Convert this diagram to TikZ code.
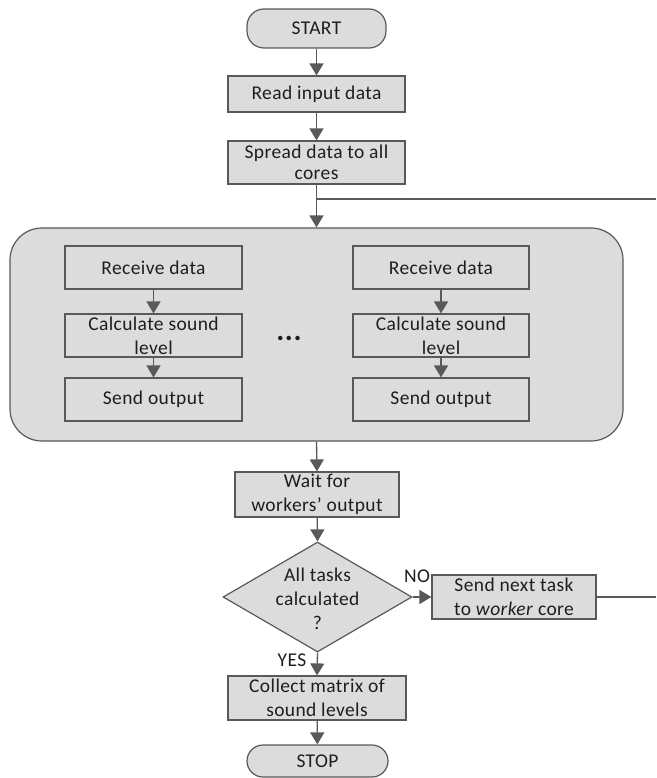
\documentclass[tikz,border=0pt]{standalone}
\usepackage{fontspec}
\setmainfont{Carlito}[LetterSpace=2]
\usetikzlibrary{arrows.meta,shapes.geometric}
\definecolor{lc}{HTML}{595959}
\definecolor{fc}{HTML}{DCDCDC}
\definecolor{tc}{HTML}{1E1E1E}
\newcommand\myfs{\fontsize{19.5}{24}\selectfont}
\begin{document}
\begin{tikzpicture}[x=1pt,y=-1pt,
  box/.style={draw=lc, fill=fc, line width=1.2pt, inner sep=0pt, align=center, font=\myfs, text=tc},
  term/.style={box, rounded corners=17pt},
  lab/.style={font=\myfs, text=tc, inner sep=0pt},
  line/.style={draw=lc, line width=1.3pt},
  arr/.style={line, -{Triangle[length=12pt,width=14pt]}}]
\path[use as bounding box] (0,0) rectangle (656,778);

\node[term, minimum width=139pt, minimum height=39pt] (start) at (316.5,28.5) {START};
\node[box, minimum width=177pt, minimum height=36pt] (read) at (316.5,94) {Read input data};
\node[box, minimum width=177pt, minimum height=43pt, font=\fontsize{19.5}{21}\selectfont] (spread) at (316.5,162.5) {Spread data to all\\cores};

\node[box, rounded corners=32pt, minimum width=613pt, minimum height=213pt] (par) at (316.5,334.5) {};

\node[box, minimum width=177pt, minimum height=43pt] (rl) at (153.5,267.5) {Receive data};
\node[box, minimum width=177pt, minimum height=43pt] (cl) at (153.5,335.5) {Calculate sound\\level};
\node[box, minimum width=177pt, minimum height=43pt] (sl) at (153.5,399.5) {Send output};

\node[box, minimum width=176pt, minimum height=43pt] (rr) at (441,267.5) {Receive data};
\node[box, minimum width=176pt, minimum height=43pt] (cr) at (441,335.5) {Calculate sound\\level};
\node[box, minimum width=176pt, minimum height=43pt] (sr) at (441,399.5) {Send output};

\node[lab, font=\fontsize{30}{30}\selectfont\bfseries] (dots) at (289,338) {...};

\node[box, minimum width=164pt, minimum height=45pt] (wait) at (317,494.5) {Wait for\\workers’ output};

\node[box, diamond, minimum width=189pt, minimum height=110pt] (dec) at (317.5,597) {};
\node[lab, align=center] (dectext) at (317.5,598.5) {All tasks\\calculated\\?};

\node[box, minimum width=164pt, minimum height=44pt] (next) at (514,597) {Send next task\\to \textit{worker} core};

\node[lab] (no) at (417,576) {NO};
\node[lab] (yes) at (292,660) {YES};

\node[box, minimum width=178pt, minimum height=44pt] (collect) at (317,698) {Collect matrix of\\sound levels};
\node[term, minimum width=141pt, minimum height=32pt, rounded corners=16pt] (stop) at (317.5,761) {STOP};

\coordinate (j) at (316.5,199);
\coordinate (outA) at (656,199);
\coordinate (outB) at (656,597);

\draw[arr] (start) -- (read);
\draw[arr] (read) -- (spread);
\draw[line] (spread.south) -- (j) -- (outA);
\draw[arr] (spread.south) -- (par.north);
\draw[arr] (rl) -- (cl);
\draw[arr] (cl) -- (sl);
\draw[arr] (rr) -- (cr);
\draw[arr] (cr) -- (sr);
\draw[arr] (par.south) -- (wait.north);
\draw[arr] (wait) -- (dec.north);
\draw[arr] (dec.east) -- (next.west);
\draw[line] (next.east) -- (outB);
\draw[arr] (dec.south) -- (collect.north);
\draw[arr] (collect) -- (stop);
\end{tikzpicture}
\end{document}
